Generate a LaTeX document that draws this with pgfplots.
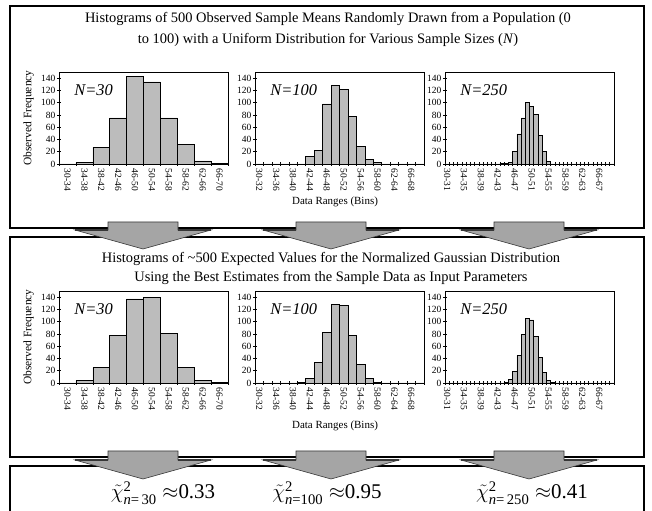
\documentclass[border=0pt]{standalone}
\usepackage{fontspec}
\setmainfont{Liberation Serif}
\usepackage{amsmath}
\usepackage{pgfplots}
\pgfplotsset{compat=1.18}

\definecolor{barfill}{RGB}{188,188,188}
\definecolor{arrowfill}{RGB}{165,165,165}
\definecolor{arrowdark}{RGB}{55,55,55}

\pgfplotsset{
  hist/.style={
    scale only axis, width=169bp, height=92bp,
    xmin=30, xmax=70, ymin=0, ymax=150,
    ytick={0,20,...,140},
    xtick pos=bottom, ytick pos=left,
    tick align=center,
    major tick length=4bp, minor tick length=4bp,
    tick style={black, line width=0.6pt},
    major x tick style={draw=none},
    axis line style={line width=0.8pt},
    /pgf/number format/assume math mode=true,
    yticklabel style={font=\fontsize{9.5}{10}\selectfont, inner sep=1.5pt},
    xticklabel style={font=\fontsize{9.5}{10}\selectfont, rotate=-90, anchor=west, inner sep=2.5pt},
    ylabel style={font=\fontsize{11.5}{13}\selectfont, at={(axis description cs:-0.18,0.5)}, anchor=center},
  },
  bars/.style={ybar, bar shift=0pt, bar width=#1, fill=barfill, draw=black, line width=0.6pt},
  w30/.style={xtick={32,36,...,68}, minor xtick={30,34,...,70},
    xticklabels={30-34,34-38,38-42,42-46,46-50,50-54,54-58,58-62,62-66,66-70}},
  w100/.style={xtick={31,35,...,67}, minor xtick={30,32,...,70},
    xticklabels={30-32,34-36,38-40,42-44,46-48,50-52,54-56,58-60,62-64,66-68}},
  w250/.style={xtick={30.5,34.5,...,66.5}, minor xtick={30,31,...,70},
    xticklabels={30-31,34-35,38-39,42-43,46-47,50-51,54-55,58-59,62-63,66-67}},
}

\newcommand{\Nlabel}[1]{\node[anchor=west, font=\fontsize{16.5}{18}\selectfont\itshape]
  at (rel axis cs:0.07,0.8) {#1};}

% cx, stem top, head top (picture coordinates, y downwards)
\newcommand{\boxarrow}[3]{%
  \filldraw[fill=arrowfill, draw=arrowdark, line width=0.6pt]
    (#1-35,#2) -- (#1+35,#2) -- (#1+35,#3) -- (#1+68,#3) -- (#1,#3+19)
    -- (#1-68,#3) -- (#1-35,#3) -- cycle;
  \draw[arrowdark, line width=1.6pt] (#1-68,#3) -- (#1-35,#3) (#1+35,#3) -- (#1+68,#3);
}

\begin{document}
\begin{tikzpicture}[x=1bp, y=1bp]
\useasboundingbox (0,0) rectangle (652,511);

\begin{scope}[shift={(0,511)}, yscale=-1]
  \fill[white] (0,0) rectangle (652,511);
  \draw[line width=1.1pt] (10,6) rectangle (644,228);
  \draw[line width=1.1pt] (10,237) rectangle (644,457);
  \draw[line width=1.1pt] (10,466) rectangle (644,530);
  \node[align=center, font=\fontsize{14.5}{21}\selectfont] at (328,29.5)
    {Histograms of 500 Observed Sample Means Randomly Drawn from a Population (0\\
     to 100) with a Uniform Distribution for Various Sample Sizes (\textit{N})};
  \node[align=center, font=\fontsize{14.5}{19}\selectfont] at (331,268.5)
    {Histograms of \textasciitilde500 Expected Values for the Normalized Gaussian Distribution\\
     Using the Best Estimates from the Sample Data as Input Parameters};
  \node[font=\fontsize{11}{13}\selectfont] at (335,202) {Data Ranges (Bins)};
  \node[font=\fontsize{11}{13}\selectfont] at (335,426) {Data Ranges (Bins)};
\end{scope}

% ---- observed (top row)
\begin{axis}[hist, w30, at={(59bp,347bp)}, ylabel={Observed Frequency}]
  \addplot[bars=4] coordinates {(32,0) (36,2) (40,27) (44,75) (48,143) (52,134) (56,75) (60,32) (64,5) (68,1)};
  \Nlabel{N=30}
\end{axis}
\begin{axis}[hist, w100, at={(255bp,347bp)}]
  \addplot[bars=2] coordinates {(31,0) (33,0) (35,0) (37,0) (39,0) (41,0) (43,12) (45,22) (47,98) (49,128)
    (51,122) (53,77) (55,29) (57,7) (59,2) (61,0) (63,0) (65,0) (67,0) (69,0)};
  \Nlabel{N=100}
\end{axis}
\begin{axis}[hist, w250, at={(445bp,347bp)}]
  \addplot[bars=1] coordinates {(30.5,0) (31.5,0) (32.5,0) (33.5,0) (34.5,0) (35.5,0) (36.5,0) (37.5,0)
    (38.5,0) (39.5,0) (40.5,0) (41.5,0) (42.5,0) (43.5,1) (44.5,1) (45.5,3) (46.5,20) (47.5,49)
    (48.5,75) (49.5,101) (50.5,94) (51.5,81) (52.5,46) (53.5,20) (54.5,4) (55.5,0) (56.5,0) (57.5,0)
    (58.5,0) (59.5,0) (60.5,0) (61.5,0) (62.5,0) (63.5,0) (64.5,0) (65.5,0) (66.5,0) (67.5,0) (68.5,0) (69.5,0)};
  \Nlabel{N=250}
\end{axis}

% ---- expected (bottom row)
\begin{axis}[hist, w30, at={(59bp,128bp)}, ylabel={Observed Frequency}]
  \addplot[bars=4] coordinates {(32,0) (36,4) (40,25) (44,77) (48,137) (52,139) (56,81) (60,26) (64,4) (68,1)};
  \Nlabel{N=30}
\end{axis}
\begin{axis}[hist, w100, at={(255bp,128bp)}]
  \addplot[bars=2] coordinates {(31,0) (33,0) (35,0) (37,0) (39,0) (41,1) (43,8) (45,33) (47,82) (49,128)
    (51,126) (53,77) (55,30) (57,7) (59,1) (61,0) (63,0) (65,0) (67,0) (69,0)};
  \Nlabel{N=100}
\end{axis}
\begin{axis}[hist, w250, at={(445bp,128bp)}]
  \addplot[bars=1] coordinates {(30.5,0) (31.5,0) (32.5,0) (33.5,0) (34.5,0) (35.5,0) (36.5,0) (37.5,0)
    (38.5,0) (39.5,0) (40.5,0) (41.5,0) (42.5,0) (43.5,0) (44.5,1) (45.5,6) (46.5,19) (47.5,45)
    (48.5,79) (49.5,105) (50.5,103) (51.5,76) (52.5,42) (53.5,17) (54.5,4) (55.5,1) (56.5,0) (57.5,0)
    (58.5,0) (59.5,0) (60.5,0) (61.5,0) (62.5,0) (63.5,0) (64.5,0) (65.5,0) (66.5,0) (67.5,0) (68.5,0) (69.5,0)};
  \Nlabel{N=250}
\end{axis}

\begin{scope}[shift={(0,511)}, yscale=-1]
  \boxarrow{143}{222}{230}
  \boxarrow{331}{222}{230}
  \boxarrow{529}{222}{230}
  \boxarrow{143}{451}{460}
  \boxarrow{331}{451}{460}
  \boxarrow{529}{451}{460}
  \node[font=\fontsize{21}{24}\selectfont] at (163,493)
    {$\tilde{\chi}^{\text{2}}_{\text{\itshape n\upshape =\,30}}\approx$0.33};
  \node[font=\fontsize{21}{24}\selectfont] at (327,493)
    {$\tilde{\chi}^{\text{2}}_{\text{\itshape n\upshape =100}}\approx$0.95};
  \node[font=\fontsize{21}{24}\selectfont] at (532,493)
    {$\tilde{\chi}^{\text{2}}_{\text{\itshape n\upshape =\,250}}\approx$0.41};
\end{scope}
\end{tikzpicture}
\end{document}
